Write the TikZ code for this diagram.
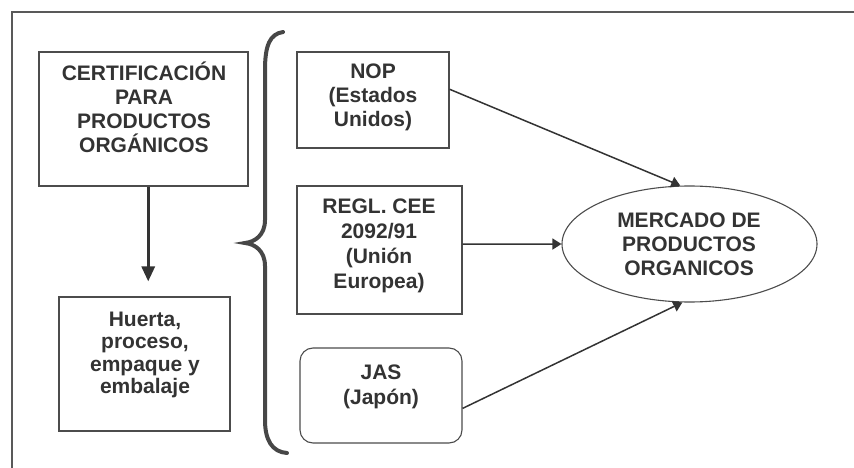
\documentclass[tikz,border=0pt]{standalone}
\usepackage{fontspec}
\setmainfont{Liberation Sans}
\usetikzlibrary{arrows.meta,shapes.geometric}
\begin{document}
\begin{tikzpicture}[x=1pt,y=-1pt,
  boxstyle/.style={draw=black!70,line width=1.1pt,inner sep=0pt},
  txt/.style={font=\fontsize{21}{24}\bfseries,text=black!80,align=center,inner sep=0pt},
  conn/.style={draw=black!80,line width=1.5pt,-{Triangle[length=9pt,width=11pt]}},
  bracestyle/.style={draw=black!72,line width=4pt,line cap=round}]
\useasboundingbox (0,0) rectangle (854,468);
\draw[black!65,line width=1.2pt] (854,12) -- (12,12) -- (12,468);
% boxes
\node[boxstyle,minimum width=209pt,minimum height=134pt] (cert) at (143.5,119) {};
\node[boxstyle,minimum width=171pt,minimum height=134pt] (huerta) at (144.5,364) {};
\node[boxstyle,minimum width=152pt,minimum height=96pt] (nop) at (373,100) {};
\node[boxstyle,minimum width=165pt,minimum height=128pt] (regl) at (379.5,250) {};
\node[boxstyle,rounded corners=13pt,minimum width=162pt,minimum height=95pt] (jas) at (381,395.5) {};
\node[boxstyle,ellipse,minimum width=255pt,minimum height=116pt] (mercado) at (689.5,244) {};
% texts
\node[txt] (certtxt) at (144,107) {CERTIFICACIÓN\\PARA\\PRODUCTOS\\ORGÁNICOS};
\node[txt,font=\fontsize{21}{22.5}\bfseries] (huertatxt) at (145,355) {Huerta,\\proceso,\\empaque y\\embalaje};
\node[txt] (noptxt) at (373,97.5) {NOP\\(Estados\\Unidos)};
\node[txt,font=\fontsize{21}{25}\bfseries] (regltxt) at (379,245.5) {REGL. CEE\\2092/91\\(Unión\\Europea)};
\node[txt,font=\fontsize{21}{25}\bfseries] (jastxt) at (381,387) {JAS\\(Japón)};
\node[txt] (mercadotxt) at (689,244.5) {MERCADO DE\\PRODUCTOS\\ORGANICOS};
% connectors
\draw[draw=black!80,line width=3pt,-{Triangle[length=15pt,width=13pt]},shorten >=15pt]
  (cert.-86) -- (cert.-86 |- huerta.north);
\draw[conn] (nop.8) -- (mercado.99);
\draw[conn] (regl.4) -- (mercado.west);
\draw[conn] (jas.-9) -- (mercado.-97);
% brace
\draw[bracestyle] (283,32) .. controls (270,34) and (265,45) .. (265,70) -- (265,220)
  .. controls (265,235) and (255,242) .. (245,243)
  .. controls (255,244) and (265,251) .. (265,266) -- (265,420)
  .. controls (265,440) and (272,452) .. (287,453);
\end{tikzpicture}
\end{document}
